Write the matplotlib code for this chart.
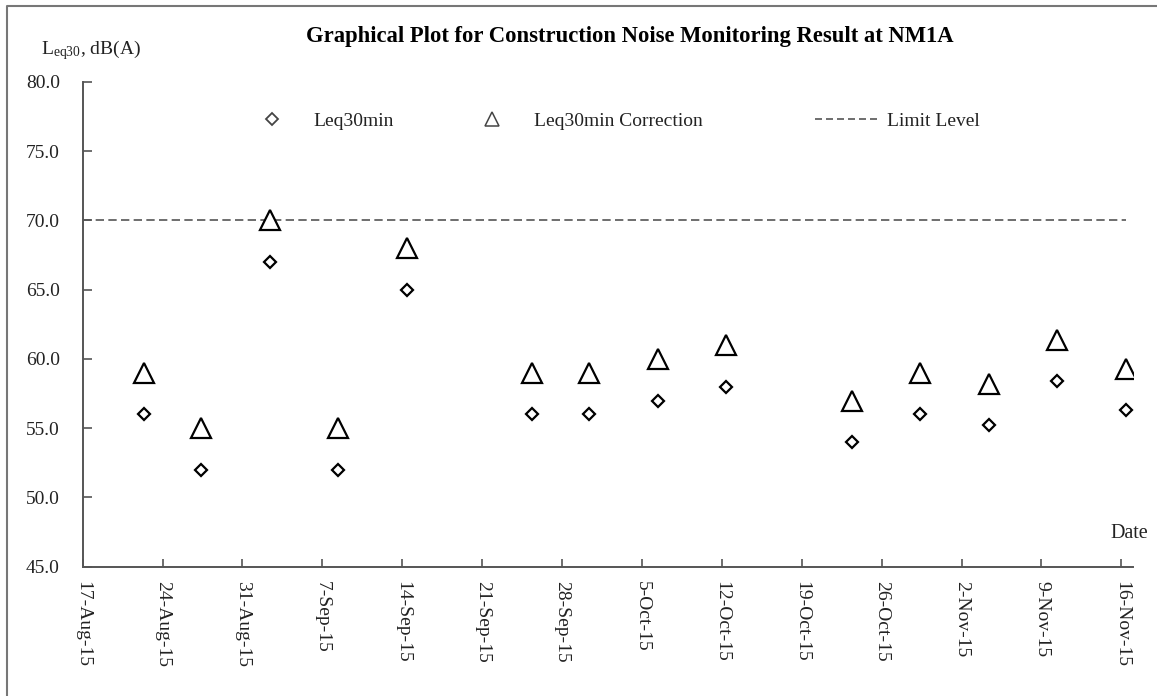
import matplotlib
matplotlib.use('Agg')
import matplotlib.pyplot as plt
from matplotlib.lines import Line2D
import pandas as pd

# ---------------- data ----------------
dates = ['2015-08-22', '2015-08-27', '2015-09-02', '2015-09-08', '2015-09-14',
         '2015-09-25', '2015-09-30', '2015-10-06', '2015-10-12', '2015-10-23',
         '2015-10-29', '2015-11-04', '2015-11-10', '2015-11-16']
leq30 = [56.0, 52.0, 67.0, 52.0, 65.0, 56.0, 56.0, 57.0, 58.0, 54.0, 56.0, 55.2, 58.4, 56.3]
leq30_corr = [59.0, 55.0, 70.0, 55.0, 68.0, 59.0, 59.0, 60.0, 61.0, 57.0, 59.0, 58.2, 61.4, 59.3]
limit_level = 70.0
tick_dates = ['2015-08-17', '2015-08-24', '2015-08-31', '2015-09-07', '2015-09-14',
              '2015-09-21', '2015-09-28', '2015-10-05', '2015-10-12', '2015-10-19',
              '2015-10-26', '2015-11-02', '2015-11-09', '2015-11-16']
tick_labels = ['17-Aug-15', '24-Aug-15', '31-Aug-15', '7-Sep-15', '14-Sep-15',
               '21-Sep-15', '28-Sep-15', '5-Oct-15', '12-Oct-15', '19-Oct-15',
               '26-Oct-15', '2-Nov-15', '9-Nov-15', '16-Nov-15']
y_ticks = [45.0, 50.0, 55.0, 60.0, 65.0, 70.0, 75.0, 80.0]
x_start, x_end = '2015-08-17', '2015-11-17'

# ---------------- style ----------------
plt.rcParams['font.family'] = ['Liberation Serif', 'DejaVu Serif']
plt.rcParams['mathtext.fontset'] = 'custom'
plt.rcParams['mathtext.rm'] = 'Liberation Serif'
plt.rcParams['mathtext.it'] = 'Liberation Serif:italic'

W, H = 1157, 696
fig = plt.figure(figsize=(W / 100, H / 100), dpi=100)
L, R, T, B = 82.7, 1132.7, 82.0, 566.7
ax = fig.add_axes([L / W, 1 - B / H, (R - L) / W, (B - T) / H])

spine_col = '#555555'
text_col = '#222222'
fs = 14

# positions of points within their day slot (Excel-like)
x = pd.to_datetime(dates) + pd.Timedelta(hours=9)

ax.hlines(limit_level, pd.Timestamp(x_start), x.max(), colors=spine_col,
          linestyles=(0, (5, 2.6)), linewidth=1.2, zorder=1)
ax.plot(x, leq30_corr, linestyle='none', marker='^', markersize=14.5,
        markerfacecolor='white', markeredgecolor='black', markeredgewidth=1.6, zorder=3)
ax.plot(x, leq30, linestyle='none', marker='D', markersize=6.6,
        markerfacecolor='white', markeredgecolor='black', markeredgewidth=1.6, zorder=3)

ax.set_xlim(pd.Timestamp(x_start), pd.Timestamp(x_end))
ax.set_ylim(45, 80)
ax.set_xticks(pd.to_datetime(tick_dates))
ax.set_xticklabels(tick_labels, rotation=-90, ha='center', va='top',
                   fontsize=fs, color=text_col)
ax.set_yticks(y_ticks)
ax.set_yticklabels(['%.1f' % v for v in y_ticks], fontsize=fs, color=text_col)
ax.tick_params(axis='x', direction='in', length=6, width=1.2, color=spine_col, pad=10)
ax.tick_params(axis='y', direction='in', length=6.5, width=1.2, color=spine_col, pad=16.5)
for s in ['top', 'right']:
    ax.spines[s].set_visible(False)
for s in ['left', 'bottom']:
    ax.spines[s].set_color(spine_col)
    ax.spines[s].set_linewidth(1.4)

# ---------------- texts ----------------
fig.text(630 / W, 1 - 42 / H, 'Graphical Plot for Construction Noise Monitoring Result at NM1A',
         ha='center', va='baseline', fontsize=16.3, fontweight='bold', color='black')
fig.text(41 / W, 1 - 54 / H, r'L$_{\mathrm{eq30}}$, dB(A)', ha='left', va='baseline',
         fontsize=fs, color=text_col)
fig.text(1148 / W, 1 - 538 / H, 'Date', ha='right', va='baseline', fontsize=14.5, color=text_col)

# ---------------- legends ----------------
h_d = Line2D([], [], linestyle='none', marker='D', markersize=6.0, markerfacecolor='white',
             markeredgecolor='#444444', markeredgewidth=1.3)
h_t = Line2D([], [], linestyle='none', marker='^', markersize=10, markerfacecolor='white',
             markeredgecolor='#444444', markeredgewidth=1.1)
h_l = Line2D([], [], color=spine_col, linestyle=(0, (4.2, 2.4)), linewidth=1.2)

def add_leg(handle, label, left_px, hlen, tpad):
    leg = fig.legend([handle], [label], loc='center left',
                     bbox_to_anchor=(left_px / W, 1 - 121 / H), frameon=False,
                     fontsize=fs, handlelength=hlen, handletextpad=tpad,
                     borderpad=0, borderaxespad=0, labelcolor=text_col)
    return leg

add_leg(h_d, 'Leq30min', 261, 1.1, 1.6)
add_leg(h_t, 'Leq30min Correction', 480, 1.2, 1.6)
add_leg(h_l, 'Limit Level', 815, 3.3, 0.4)

# outer frame (left & top)
fig.add_artist(Line2D([7 / W, 7 / W, 1.0], [0.0, 1 - 6 / H, 1 - 6 / H],
                      transform=fig.transFigure, color='#777777', linewidth=1.5))

fig.savefig('out.png', dpi=100)
